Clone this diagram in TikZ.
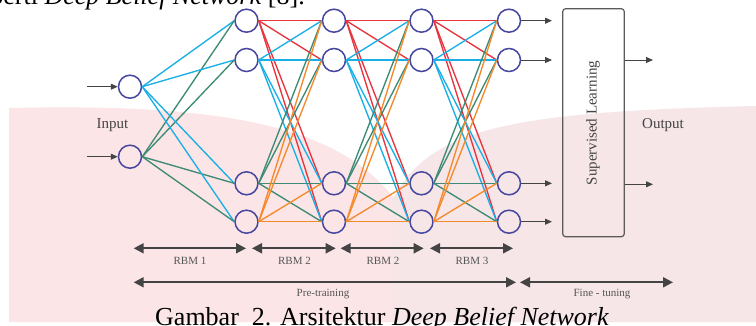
\documentclass[tikz,border=0pt]{standalone}
\usepackage{fontspec}
\setmainfont{Liberation Serif}
\usetikzlibrary{arrows.meta}
\definecolor{cred}{HTML}{E8343F}
\definecolor{ccyan}{HTML}{1AAFE6}
\definecolor{cgreen}{HTML}{3E8B75}
\definecolor{corange}{HTML}{F58A2C}
\definecolor{cnode}{HTML}{4747A0}
\definecolor{carrow}{HTML}{444444}
\definecolor{clabel}{HTML}{555555}
\definecolor{cbox}{HTML}{5A5A5A}
\definecolor{cpinkL}{HTML}{FBE5E7}
\definecolor{cpinkR}{HTML}{F6E6E8}
\tikzset{
  neuron/.style={circle, draw=cnode, line width=1.5pt, minimum size=23pt, inner sep=0pt},
  edge/.style={line width=1.35pt},
  smallarrow/.style={draw=carrow, line width=1pt, -{Triangle[length=7pt,width=6pt]}},
  span/.style={draw=carrow, line width=1.9pt, {Triangle[length=10pt,width=10pt]}-{Triangle[length=10pt,width=10pt]}},
  lbl/.style={text=clabel, font=\fontsize{11}{13}\selectfont, inner sep=0pt},
  iolbl/.style={text=carrow, font=\fontsize{15}{17}\selectfont, inner sep=0pt},
  bigtext/.style={font=\fontsize{26}{30}\selectfont, inner sep=0pt},
}
\begin{document}
\begin{tikzpicture}[x=1pt, y=-1pt]
\useasboundingbox (0,0) rectangle (756,325);
\clip (0,0) rectangle (756,325);
\fill[white] (0,0) rectangle (756,325);
% watermark
\fill[cpinkL] (9,322) -- (9,108) .. controls (200,104) and (345,118) .. (402,210) -- (402,322) -- cycle;
\fill[cpinkR] (392,322) -- (392,200) .. controls (430,130) and (500,112) .. (756,106) -- (756,322) -- cycle;

% texts top and caption
\node[bigtext, anchor=base east] (toptext) at (305,4) {seperti \textit{Deep Belief Network} [8].};
\node[bigtext, anchor=base west] (caption) at (155,325.5) {Gambar~~2. Arsitektur \textit{Deep Belief Network}};

% nodes
\node[neuron] (in1) at (130,86.7) {};
\node[neuron] (in2) at (130,156.7) {};
\foreach \l/\x in {1/246.5,2/334,3/421.5,4/509}{
  \foreach \r/\y in {1/20.7,2/60,3/183.3,4/221.7}{
    \node[neuron] (h\l\r) at (\x,\y) {};
  }
}

% input -> layer 1
\foreach \j in {1,...,4}{
  \draw[edge, ccyan] (in1.east) -- (h1\j.west);
  \draw[edge, cgreen] (in2.east) -- (h1\j.west);
}
% hidden connections
\foreach \a/\b in {1/2,2/3,3/4}{
  \foreach \r/\c in {1/cred,2/ccyan,3/cgreen,4/corange}{
    \foreach \j in {1,...,4}{
      \draw[edge, \c] (h\a\r.east) -- (h\b\j.west);
    }
  }
}

% input arrows
\coordinate (p1) at (87,86.7);
\coordinate (p2) at (87,156.7);
\draw[smallarrow] (p1) -- (in1.west);
\draw[smallarrow] (p2) -- (in2.west);

% output arrows of layer 4
\foreach \r/\y in {1/20.7,2/60,3/183.3,4/221.7}{
  \coordinate (q\r) at (552,\y);
  \draw[smallarrow] (h4\r.east) -- (q\r);
}

% supervised box
\node[draw=cbox, rounded corners=3pt, line width=1.2pt, minimum width=61.6pt, minimum height=228pt, inner sep=0pt] (sup) at (593.5,122.7) {};
\node[iolbl, rotate=90] (suplabel) at (593,123) {Supervised Learning};
\coordinate (o1) at (653,60);
\coordinate (o2) at (653,184.3);
\draw[smallarrow] (sup.east |- o1) -- (o1);
\draw[smallarrow] (sup.east |- o2) -- (o2);

\node[iolbl] (inputlbl) at (112.5,125) {Input};
\node[iolbl] (outputlbl) at (663,125) {Output};

% spans
\coordinate (s0) at (133.7,248.3);
\coordinate (s1) at (246,248.3);
\coordinate (s2) at (252,248.3);
\coordinate (s3) at (335.7,248.3);
\coordinate (s4) at (340.6,248.3);
\coordinate (s5) at (423.7,248.3);
\coordinate (s6) at (430,248.3);
\coordinate (s7) at (513,248.3);
\draw[span] (s0) -- (s1);
\draw[span] (s2) -- (s3);
\draw[span] (s4) -- (s5);
\draw[span] (s6) -- (s7);
\node[lbl] (rbm1) at (190,261) {RBM 1};
\node[lbl] (rbm2a) at (294.5,261) {RBM 2};
\node[lbl] (rbm2b) at (383,261) {RBM 2};
\node[lbl] (rbm3) at (472,261) {RBM 3};

\coordinate (t0) at (133.7,282.3);
\coordinate (t1) at (516,282.3);
\coordinate (t2) at (520,282.3);
\coordinate (t3) at (673,282.3);
\draw[span] (t0) -- (t1);
\draw[span] (t2) -- (t3);
\node[lbl] (pre) at (323,294.3) {Pre-training};
\node[lbl] (fine) at (602,294.3) {Fine - tuning};
\end{tikzpicture}
\end{document}
